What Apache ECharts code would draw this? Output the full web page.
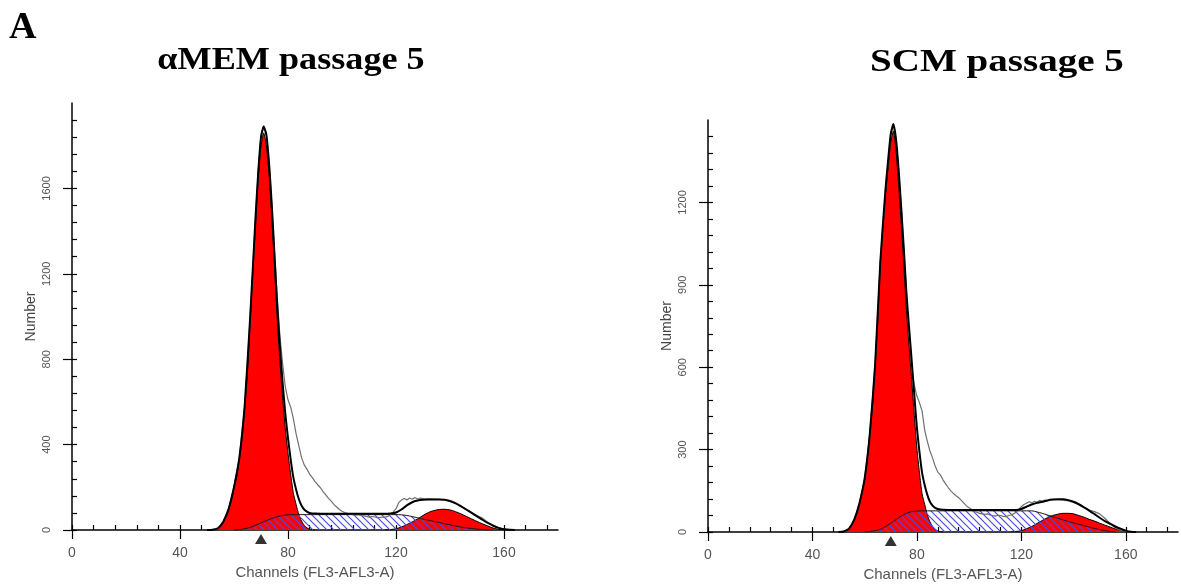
<!DOCTYPE html>
<html>
<head>
<meta charset="utf-8">
<script src="https://cdn.jsdelivr.net/npm/echarts@6/dist/echarts.min.js"></script>
<style>
  html, body { margin: 0; padding: 0; background: #fff; }
  #main { width: 1181px; height: 584px; }
</style>
</head>
<body>
<div id="main"></div>
<script>
// ---- tick labels ----
var xMajor = [0, 40, 80, 120, 160];
var xMinor = [0, 8, 16, 24, 32, 40, 48, 56, 64, 72, 80, 88, 96, 104, 112, 120, 128, 136, 144, 152, 160, 168, 176];
var memYMajor = [0, 400, 800, 1200, 1600];
var memYMinor = [0, 80, 160, 240, 320, 400, 480, 560, 640, 720, 800, 880, 960, 1040, 1120, 1200, 1280, 1360, 1440, 1520, 1600, 1680, 1760, 1840, 1920];
var scmYMajor = [0, 300, 600, 900, 1200];
var scmYMinor = [0, 60, 120, 180, 240, 300, 360, 420, 480, 540, 600, 660, 720, 780, 840, 900, 960, 1020, 1080, 1140, 1200, 1260, 1320, 1380, 1440];

// ---- channels ----
var g1Ch = [50, 51, 52, 53, 54, 55, 56, 57, 58, 59, 60, 61, 62, 63, 64, 65, 66, 67, 68, 69, 70,
  71, 72, 73, 74, 75, 76, 77, 78, 79, 80, 81, 82, 83, 84, 85, 86, 87, 88, 89, 90];
var g2Ch = [116, 118, 120, 122, 124, 126, 128, 130, 132, 134, 136, 138, 140, 142, 144, 146, 148, 150, 152, 154, 156, 158, 160, 162];
var sCh = [60, 62, 64, 66, 68, 70, 72, 74, 76, 78, 80, 82, 84, 90, 100, 110,
  120, 122, 124, 126, 128, 130, 132, 134, 136, 138, 140, 142, 144, 146, 148, 150, 152, 154, 156];
var fitCh = [50, 52, 54, 56, 58, 60, 62, 64, 66, 68,
  69, 70, 71, 72, 73, 74, 75, 76, 77, 78, 79, 80, 81, 82, 83, 84, 85, 86, 87, 88,
  90, 95, 100, 105, 110, 115, 118,
  120, 122, 124, 126, 128, 130, 132, 134, 136, 138, 140, 142, 144, 146, 148, 150, 152, 154, 156, 158, 160, 162, 164];
var dataCh = [50, 52, 54, 56, 58, 60, 62, 64, 66, 68,
  69, 70, 71, 72, 73, 74, 75, 76, 77, 78, 79, 80, 81, 82, 83, 84, 85, 86, 87, 88, 89, 90,
  91, 92, 93, 94, 95, 96, 97, 98, 99, 100, 101, 102, 103, 104, 105, 106, 107, 108, 109, 110,
  111, 112, 113, 114, 115, 116, 117, 118, 119, 120, 121, 122, 123, 124, 125, 126, 127, 128, 129, 130,
  132, 134, 136, 138, 140, 142, 144, 146, 148, 150, 152, 154, 156, 158, 160, 162, 164];

// ---- aMEM passage 5 ----
var memG1 = [0, 0, 1, 3, 8, 18, 38, 68, 98, 145, 200, 249, 335, 430, 580, 740, 980, 1220, 1440, 1650, 1800,
  1860, 1800, 1665, 1460, 1230, 990, 790, 620, 475, 360, 260, 171, 120, 72, 42, 22, 10, 4, 1, 0];
var memG2 = [0, 2, 6, 14, 25, 38, 52, 68, 82, 91, 96, 97, 94, 86, 76, 64, 52, 40, 29, 19, 9, 3, 1, 0];
var memS = [0, 2, 6, 12, 22, 33, 44, 54, 62, 68, 71, 72, 72, 72, 72, 72,
  72, 71, 68, 63, 57, 51, 46, 40, 35, 29, 24, 19, 14, 10, 7, 4, 2, 0, 0];
var memFit = [0, 1, 8, 38, 98, 200, 340, 590, 1000, 1470,
  1680, 1840, 1890, 1850, 1715, 1520, 1290, 1055, 860, 690, 545, 430, 330, 245, 190, 145, 115, 96, 86, 80,
  77, 76, 76, 76, 76, 76, 77,
  82, 96, 115, 130, 138, 142, 143, 143, 143, 142, 136, 126, 112, 96, 80, 64, 48, 33, 20, 10, 4, 1, 0];
var memData = [0, 1, 8, 40, 100, 205, 340, 590, 1000, 1470,
  1690, 1845, 1890, 1855, 1720, 1525, 1300, 1090, 910, 780, 670, 610, 575, 520, 450, 395, 340, 305, 285, 262, 245, 228,
  212, 198, 180, 165, 148, 135, 120, 108, 96, 88, 82, 78, 74, 72, 70, 72, 68, 66, 64, 60,
  63, 62, 58, 58, 61, 60, 64, 72, 85, 100, 128, 140, 148, 141, 150, 144, 152, 145, 150, 147,
  146, 145, 143, 141, 134, 124, 111, 96, 82, 68, 56, 35, 21, 10, 5, 2, 0];

// ---- SCM passage 5 ----
var scmG1 = [0, 0, 2, 5, 12, 25, 45, 70, 100, 150, 190, 265, 360, 460, 605, 770, 975, 1110, 1230, 1330, 1420,
  1460, 1390, 1265, 1120, 970, 807, 680, 555, 425, 305, 215, 138, 100, 62, 37, 20, 9, 4, 1, 0];
var scmG2 = [0, 2, 5, 12, 20, 31, 42, 52, 60, 65, 68, 68, 66, 60, 54, 46, 40, 32, 25, 18, 11, 5, 2, 0];
var scmS = [0, 2, 5, 10, 20, 32, 45, 58, 68, 74, 76, 77, 77, 77, 77, 77,
  77, 77, 77, 73, 68, 62, 56, 50, 44, 38, 33, 28, 23, 18, 13, 9, 5, 2, 0];
var scmFit = [0, 2, 12, 45, 105, 195, 360, 610, 985, 1250,
  1355, 1450, 1485, 1430, 1320, 1180, 1030, 870, 745, 625, 500, 380, 290, 215, 170, 135, 110, 96, 88, 84,
  81, 80, 80, 80, 80, 80, 80,
  84, 92, 100, 106, 110, 115, 118, 119, 119, 116, 110, 101, 90, 78, 65, 52, 40, 30, 20, 12, 5, 1, 0];
var scmData = [0, 2, 12, 45, 105, 195, 360, 610, 985, 1250,
  1350, 1445, 1485, 1430, 1320, 1180, 1030, 870, 720, 600, 535, 495, 470, 440, 370, 330, 295, 270, 240, 218, 208, 190,
  175, 162, 150, 140, 132, 125, 115, 105, 95, 88, 82, 76, 72, 68, 66, 64, 66, 62, 60, 58,
  61, 60, 57, 56, 59, 62, 66, 72, 82, 92, 100, 105, 110, 106, 112, 108, 115, 112, 116, 114,
  118, 118, 116, 113, 108, 100, 90, 80, 74, 66, 50, 30, 15, 6, 2, 1, 0];

var markerCh = [70];

function pairs(ch, vals) {
  return ch.map(function (c, i) { return [c, vals[i]]; });
}

// diagonal hatch for S phase
var hatch = document.createElement('canvas');
hatch.width = 7; hatch.height = 7;
(function () {
  var ctx = hatch.getContext('2d');
  ctx.strokeStyle = '#4a4ae8';
  ctx.lineWidth = 1.2;
  ctx.beginPath();
  ctx.moveTo(-1, -1); ctx.lineTo(8, 8);
  ctx.moveTo(-1, 6); ctx.lineTo(1, 8);
  ctx.moveTo(6, -1); ctx.lineTo(8, 1);
  ctx.stroke();
})();

var axisFont = 'Liberation Sans';

function xAxes(grid) {
  return [{
    type: 'value', gridIndex: grid, min: 0, max: 180,
    axisLine: { show: true, onZero: false, lineStyle: { color: '#000', width: 1.5 } },
    axisTick: { show: true, customValues: xMajor, length: 9, lineStyle: { color: '#000', width: 1.2 } },
    axisLabel: { customValues: xMajor, margin: 16, color: '#555', fontSize: 14, fontFamily: axisFont },
    splitLine: { show: false },
    name: 'Channels (FL3-AFL3-A)', nameLocation: 'middle', nameGap: 33,
    nameTextStyle: { color: '#555', fontSize: 15, fontFamily: axisFont }
  }, {
    type: 'value', gridIndex: grid, min: 0, max: 180,
    axisLine: { show: false },
    axisTick: { show: true, customValues: xMinor, length: 5, lineStyle: { color: '#000', width: 1.2 } },
    axisLabel: { show: false },
    splitLine: { show: false }
  }];
}

function yAxes(grid, max, major, minor) {
  return [{
    type: 'value', gridIndex: grid, min: 0, max: max,
    axisLine: { show: true, onZero: false, lineStyle: { color: '#000', width: 1.5 } },
    axisTick: { show: true, customValues: major, length: 9, lineStyle: { color: '#000', width: 1.2 } },
    axisLabel: {
      customValues: major, rotate: 90, margin: 20, color: '#555', fontSize: 11, fontFamily: axisFont,
      formatter: function (v) { return String(v); }
    },
    splitLine: { show: false },
    name: 'Number', nameLocation: 'middle', nameGap: 34,
    nameTextStyle: { color: '#444', fontSize: 14, fontFamily: axisFont }
  }, {
    type: 'value', gridIndex: grid, min: 0, max: max,
    axisLine: { show: false },
    axisTick: { show: true, customValues: minor, length: 5, lineStyle: { color: '#000', width: 1.2 } },
    axisLabel: { show: false },
    splitLine: { show: false }
  }];
}

function panelSeries(xi, yi, g1, g2, s, fit, data) {
  var red = { color: '#ff0000', opacity: 1 };
  return [{
    type: 'line', xAxisIndex: xi, yAxisIndex: yi, data: pairs(g1Ch, g1), symbol: 'none', smooth: 0.2,
    lineStyle: { color: '#000', width: 1 }, areaStyle: red, z: 2, silent: true
  }, {
    type: 'line', xAxisIndex: xi, yAxisIndex: yi, data: pairs(g2Ch, g2), symbol: 'none', smooth: 0.3,
    lineStyle: { color: '#000', width: 1 }, areaStyle: red, z: 2, silent: true
  }, {
    type: 'line', xAxisIndex: xi, yAxisIndex: yi, data: pairs(sCh, s), symbol: 'none', smooth: 0.3,
    lineStyle: { color: '#2a1010', width: 1 },
    areaStyle: { color: { image: hatch, repeat: 'repeat' }, opacity: 1 }, z: 3, silent: true
  }, {
    type: 'line', xAxisIndex: xi, yAxisIndex: yi, data: pairs(dataCh, data), symbol: 'none',
    lineStyle: { color: '#707070', width: 1.2 }, z: 4, silent: true
  }, {
    type: 'line', xAxisIndex: xi, yAxisIndex: yi, data: pairs(fitCh, fit), symbol: 'none', smooth: 0.2,
    lineStyle: { color: '#000', width: 2 }, z: 5, silent: true
  }, {
    type: 'scatter', xAxisIndex: xi, yAxisIndex: yi, data: markerCh.map(function (c) { return [c, 0]; }),
    symbol: 'triangle', symbolSize: [12, 10], symbolOffset: [0, 9], clip: false,
    itemStyle: { color: '#000' }, z: 6, silent: true
  }];
}

var myChart = echarts.init(document.getElementById('main'));

var option = {
  backgroundColor: '#fff',
  animation: false,
  grid: [
    { left: 72, top: 103, width: 486, height: 427, outerBoundsMode: 'none' },
    { left: 708, top: 120, width: 470, height: 412, outerBoundsMode: 'none' }
  ],
  graphic: [
    { type: 'text', left: 9, top: 9, style: { text: 'A', font: 'bold 38px "Liberation Serif"', fill: '#000' } },
    { type: 'text', x: 291, y: 61, scaleX: 1.13, style: { text: 'αMEM passage 5', font: 'bold 32px "Liberation Serif"', fill: '#000', textAlign: 'center', textVerticalAlign: 'middle' } },
    { type: 'text', x: 997, y: 63, scaleX: 1.22, style: { text: 'SCM passage 5', font: 'bold 32px "Liberation Serif"', fill: '#000', textAlign: 'center', textVerticalAlign: 'middle' } }
  ],
  xAxis: xAxes(0).concat(xAxes(1)),
  yAxis: yAxes(0, 2000, memYMajor, memYMinor).concat(yAxes(1, 1500, scmYMajor, scmYMinor)),
  series: panelSeries(0, 0, memG1, memG2, memS, memFit, memData)
    .concat(panelSeries(2, 2, scmG1, scmG2, scmS, scmFit, scmData))
};

myChart.setOption(option);
</script>
</body>
</html>
